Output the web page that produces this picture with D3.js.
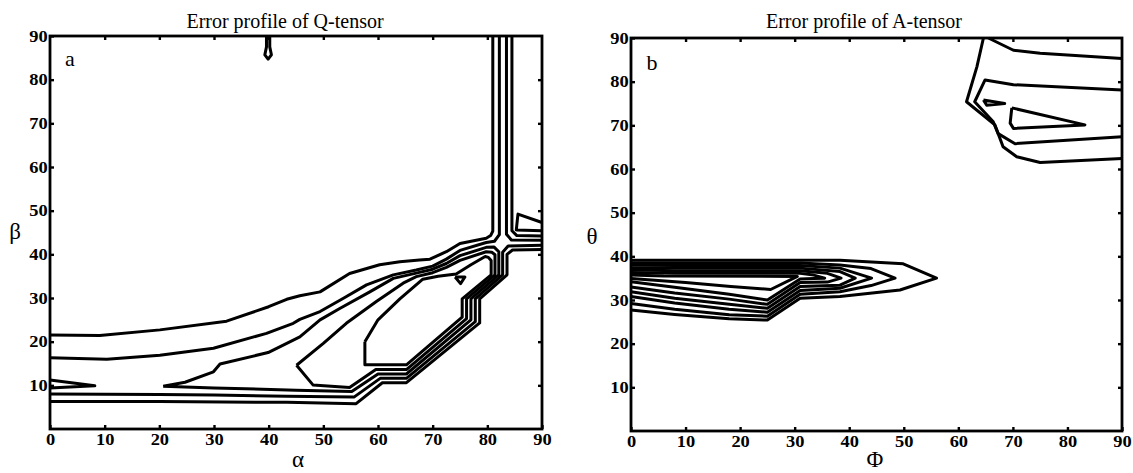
<!DOCTYPE html>
<html>
<head>
<meta charset="utf-8">
<script src="https://cdn.jsdelivr.net/npm/d3@7"></script>
<style>
  body { margin: 0; background: #fff; }
  svg { display: block; font-family: "Liberation Serif", "DejaVu Serif", serif; }
</style>
</head>
<body>
<div id="chart"></div>
<script>
// tick labels
const xTicks = [0, 10, 20, 30, 40, 50, 60, 70, 80, 90];
const yTicks = [10, 20, 30, 40, 50, 60, 70, 80, 90];
const innerTicks = [10, 20, 30, 40, 50, 60, 70, 80];

// panel a : Q-tensor, contour lines as [alpha, beta]
const qC1 = [[0,21.5],[9.1,21.4],[20.1,22.7],[32.3,24.7],[40,28],[43.3,29.7],[45.7,30.5],[49.4,31.4],[54.8,35.6],[60.3,37.6],[64,38.3],[67.6,38.7],[69.5,38.9],[72.5,40.6],[75,42.5],[79.8,43.7],[80.6,44.3],[81.0,45.3],[81.0,90]];
const qC2 = [[0,16.3],[10.4,16.0],[20.1,16.9],[29.9,18.5],[39.6,21.9],[44.5,24.2],[45.7,25.1],[49.4,26.9],[53.6,29.9],[57.9,33],[62.8,35.3],[67,36.4],[70,37.3],[72.5,38.9],[75,40.9],[79.8,42.7],[81.3,43.0],[82.2,44.5],[82.2,90]];
const qC3 = [[20.7,9.8],[24.7,10.7],[29.9,13.1],[31.1,14.9],[39.9,17.5],[45.7,21.1],[49.4,25],[53,27.6],[58.5,31.4],[62.8,34.5],[67,35.7],[70,36.6],[72.5,37.9],[75,39.7],[79.8,41.6],[81.2,41.7],[82.1,40.6],[82.1,35.3],[77.0,29.8],[77.0,25.0],[65.2,12.6],[60.0,12.6],[55.2,8.6],[45,8.9],[30,9.4],[20.7,9.8]];
const qC4 = [[45.1,14.6],[48.1,10.1],[54.8,9.5],[59.6,13.6],[65.2,13.6],[76.2,25.3],[76.2,29.8],[81.4,35.3],[81.4,39.9],[80.8,40.5],[79.8,40.6],[75,38.6],[72.5,37.0],[70,35.8],[67,34.9],[64.6,33.4],[59.7,29.2],[54.2,24.2],[50,19.6],[45.1,14.6]];
const qC5 = [[57.6,20],[57.6,14.7],[65.2,14.7],[75.4,25.6],[75.4,29.8],[80.7,35.3],[80.7,38.6],[80.2,39.3],[79.6,39.5],[77,37.6],[74.3,35.5],[71,35.0],[68.2,34.3],[64,29.8],[60,25],[57.6,20]];
const qLa = [[0,8.0],[10,7.95],[20,7.9],[30,7.8],[43.3,7.5],[55.6,7.3],[60.4,11.6],[65.2,11.6],[77.8,24.6],[77.8,29.8],[82.8,35.3],[82.8,40.5],[83.8,41.9],[90,42.1]];
const qLb = [[0,6.3],[20,6.3],[43.3,6.1],[56.0,5.8],[60.8,10.6],[65.2,10.6],[78.6,24.3],[78.6,29.8],[83.6,35.3],[83.6,40.0],[84.6,41.0],[90,41.1]];
const qV3 = [[83.5,90],[83.5,44.6],[84.4,43.3],[90,43.2]];
const qV4 = [[84.5,90],[84.5,45.4],[85.4,44.3],[90,44.2]];
const qEdgeLoop = [[90,47.3],[85.6,49.2],[85.3,45.6],[90,45.4]];
const qWedge = [[0,11.2],[8.2,9.9],[0,9.4]];
const qDrop = [[39.6,90],[39.6,87.5],[39.3,85.7],[39.9,84.7],[40.5,85.7],[40.2,87.5],[40.2,90]];
const qTri = [[74.1,34.8],[75.9,34.8],[75.1,33.3],[74.1,34.8]];

// panel b : A-tensor, contour lines as [phi, theta]
const aR0 = [[65.5,90],[70.1,87.2],[75,86.5],[90,85.3]];
const aR1 = [[64.6,90],[63.4,83.4],[61.5,75.4],[66.7,70.1],[68.2,65.1],[70.7,62.8],[75,61.5],[90,62.4]];
const aR2 = [[90,78.1],[70.1,79.3],[64.9,80.4],[63,75.4],[66.4,70.8],[67.3,68.1],[70.4,65.8],[90,67.4]];
const aR3 = [[69.8,74.0],[83.2,70.1],[70.1,69.3],[69.5,70.5],[69.8,74.0]];
const aR4 = [[64.6,75.8],[68.5,75.0],[65.2,74.6],[64.6,75.8]];
const aK0 = [[0,39.1],[10,39.1],[31,39.1],[38.3,39.1],[49.9,38.3],[56,35.0],[49.3,32.3],[38.3,30.8],[31,30.4],[25,25.4],[18,25.7],[8,26.7],[0,27.7]];
const aK1 = [[0,38.5],[8,38.5],[31,38.5],[38.3,38.0],[44,37.2],[48.4,35.0],[44,33.3],[38.3,31.9],[31,31.3],[25,26.3],[18,26.6],[8,27.9],[0,29.2]];
const aK2 = [[0,38.0],[8,37.9],[31,37.9],[38.3,37.3],[44.1,35.0],[38.3,32.7],[31,32.2],[25,27.2],[18,27.9],[8,29.3],[0,30.8]];
const aK3 = [[0,37.4],[8,37.3],[31,37.3],[38.3,36.5],[41.1,35.0],[38.3,33.4],[31,33.1],[25,28.1],[18,29.0],[8,30.4],[0,31.9]];
const aK4 = [[0,36.9],[8,36.7],[31,36.7],[36,36.1],[38.5,35.0],[36,34.1],[31,34.0],[25,29.0],[18,30.2],[8,31.6],[0,33.0]];
const aK5 = [[0,36.3],[8,36.1],[31,36.1],[33.5,35.7],[35.5,35.0],[33.5,34.9],[31,34.8],[25,30.0],[18,31.3],[8,32.9],[0,34.2]];
const aK6 = [[0,35.7],[6,35.5],[30.5,35.4],[25.6,32.4],[18.3,33.1],[10,34.0],[0,34.9]];

const W = 1133, H = 473;
const svg = d3.select('#chart').append('svg')
	.attr('width', W)
	.attr('height', H);

const numStretch = 1.15;

function drawPanel(p) {
	const x = d3.scaleLinear().domain([0, 90]).range([p.left, p.right]);
	const y = d3.scaleLinear().domain([0, 90]).range([p.bottom, p.top]);
	const g = svg.append('g');

	// contour lines
	const line = d3.line().x(d => x(d[0])).y(d => y(d[1]));
	g.append('g')
		.selectAll('path')
		.data(p.lines)
		.enter()
			.append('path')
				.attr('d', line)
				.attr('fill', 'none')
				.attr('stroke', '#000')
				.attr('stroke-width', 3)
				.attr('stroke-linejoin', 'round');

	// axes, ticks pointing inward
	const bottom = g.append('g')
		.attr('transform', `translate(0,${p.bottom})`)
		.call(d3.axisBottom(x).tickValues(xTicks).tickSize(-4).tickPadding(5));
	const left = g.append('g')
		.attr('transform', `translate(${p.left},0)`)
		.call(d3.axisLeft(y).tickValues(yTicks).tickSize(-4).tickPadding(2));
	g.append('g')
		.attr('transform', `translate(0,${p.top})`)
		.call(d3.axisTop(x).tickValues(innerTicks).tickSize(-4).tickFormat(''));
	g.append('g')
		.attr('transform', `translate(${p.right},0)`)
		.call(d3.axisRight(y).tickValues(innerTicks).tickSize(-4).tickFormat(''));

	g.selectAll('.domain').remove();
	g.selectAll('.tick line').attr('stroke', '#000').attr('stroke-width', 2.4);
	[bottom, left].forEach(a => a.selectAll('text')
		.attr('fill', '#000')
		.style('font-family', '"Liberation Serif", serif')
		.style('font-size', '16px')
		.style('font-weight', 'bold')
		.attr('transform', `scale(${numStretch},1)`));

	// frame
	g.append('rect')
		.attr('x', p.left)
		.attr('y', p.top)
		.attr('width', p.right - p.left)
		.attr('height', p.bottom - p.top)
		.attr('fill', 'none')
		.attr('stroke', '#000')
		.attr('stroke-width', 2.8);

	// texts
	g.append('text')
		.attr('x', p.titleX)
		.attr('y', 28)
		.attr('text-anchor', 'middle')
		.style('font-size', '20px')
		.text(p.title);
	g.append('text')
		.attr('x', p.tagX)
		.attr('y', p.tagY)
		.attr('text-anchor', 'middle')
		.style('font-size', '22px')
		.text(p.tag);
	g.append('text')
		.attr('x', p.xLabelX)
		.attr('y', p.xLabelY)
		.attr('text-anchor', 'middle')
		.style('font-size', '23px')
		.text(p.xLabel);
	g.append('text')
		.attr('x', p.yLabelX)
		.attr('y', p.yLabelY)
		.attr('text-anchor', 'middle')
		.style('font-size', '23px')
		.text(p.yLabel);
}

drawPanel({
	left: 50, right: 542, top: 36, bottom: 429,
	lines: [qC1, qC2, qC3, qC4, qC5, qLa, qLb, qV3, qV4, qEdgeLoop, qWedge, qDrop, qTri],
	title: 'Error profile of Q-tensor', titleX: 285,
	tag: 'a', tagX: 70, tagY: 66,
	xLabel: 'α', xLabelX: 298, xLabelY: 467,
	yLabel: 'β', yLabelX: 15, yLabelY: 239
});

drawPanel({
	left: 631, right: 1122, top: 38, bottom: 431,
	lines: [aR0, aR1, aR2, aR3, aR4, aK0, aK1, aK2, aK3, aK4, aK5, aK6],
	title: 'Error profile of A-tensor', titleX: 864,
	tag: 'b', tagX: 652, tagY: 70,
	xLabel: 'Φ', xLabelX: 875, xLabelY: 467,
	yLabel: 'θ', yLabelX: 592, yLabelY: 244
});
</script>
</body>
</html>
